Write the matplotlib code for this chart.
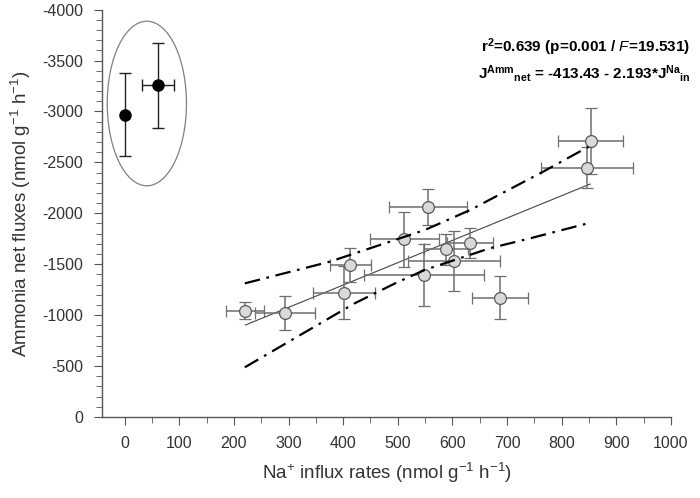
import numpy as np
import matplotlib
matplotlib.use("Agg")
import matplotlib.pyplot as plt
from matplotlib.patches import Ellipse
from matplotlib.ticker import MultipleLocator

plt.rcParams['font.family'] = ['Liberation Sans', 'DejaVu Sans']
plt.rcParams['axes.unicode_minus'] = False
plt.rcParams['mathtext.fontset'] = 'custom'
plt.rcParams['mathtext.rm'] = 'Liberation Sans'
plt.rcParams['mathtext.it'] = 'Liberation Sans:italic'
plt.rcParams['mathtext.bf'] = 'Liberation Sans:bold'

# outliers (black, circled)
na_black = [0, 61]
amm_black = [-2970, -3256]
na_black_err = [0, 30]
amm_black_err = [410, 417]

# main data (grey)
na = [220, 293, 402, 413, 512, 548, 555, 588, 603, 632, 687, 847, 853]
amm = [-1043, -1018, -1220, -1492, -1744, -1394, -2064, -1646, -1534, -1705, -1171, -2447, -2712]
na_err = [35, 55, 57, 38, 63, 110, 72, 40, 84, 42, 51, 84, 59]
amm_err = [85, 167, 262, 163, 271, 301, 176, 150, 295, 147, 213, 203, 324]

# regression line and confidence bands
reg_x = [221, 852]
reg_y = [-903, -2287]
up_x = [220, 375, 549, 632, 763, 849]
up_y = [-1312, -1524, -1835, -2031, -2400, -2653]
lo_x = [220, 421, 495, 549, 668, 742, 852]
lo_y = [-488, -1116, -1312, -1443, -1656, -1754, -1907]

fig = plt.figure(figsize=(7.0, 4.98), dpi=100)
ax = fig.add_axes([0.1461, 0.1627, 0.8124, 0.818])

ax.plot(reg_x, reg_y, color='#444444', lw=0.8, zorder=2)
ax.plot(up_x, up_y, color='black', lw=1.6, dashes=(7, 3, 1.2, 3), zorder=4)
ax.plot(lo_x, lo_y, color='black', lw=1.6, dashes=(7, 3, 1.2, 3), zorder=4)

ax.errorbar(na, amm, xerr=na_err, yerr=amm_err, fmt='o', ms=8.5,
            mfc='#d9d9d9', mec='#5a5a5a', mew=0.9, ecolor='#6e6e6e',
            elinewidth=1.1, capsize=4.5, capthick=1.1, zorder=3)
ax.errorbar(na_black, amm_black, xerr=na_black_err, yerr=amm_black_err, fmt='o',
            ms=8, mfc='black', mec='black', ecolor='#222222',
            elinewidth=1.0, capsize=4.5, capthick=1.0, zorder=3)

ax.add_patch(Ellipse((40.6, -3078), 145, 1616, fill=False, ec='#808080', lw=0.9))

ax.set_xlim(-41, 1000)
ax.set_ylim(0, -4000)
ax.xaxis.set_major_locator(MultipleLocator(100))
ax.xaxis.set_minor_locator(MultipleLocator(50))
ax.yaxis.set_major_locator(MultipleLocator(500))
ax.yaxis.set_minor_locator(MultipleLocator(100))

for s in ['top', 'right']:
    ax.spines[s].set_visible(False)
for s in ['left', 'bottom']:
    ax.spines[s].set_color('#555555')
    ax.spines[s].set_linewidth(1.0)
ax.tick_params(which='major', length=6, color='#555555', labelsize=11.5,
               labelcolor='#333333', pad=8)
ax.tick_params(which='minor', length=4, color='#555555')

ax.set_xlabel('Na$^{+}$ influx rates (nmol g$^{-1}$ h$^{-1}$)', fontsize=13.5,
              color='#333333', labelpad=7)
ax.set_ylabel('Ammonia net fluxes (nmol g$^{-1}$ h$^{-1}$)', fontsize=13.5,
              color='#333333', labelpad=6)

fig.text(0.986, 0.906, r'r$^{\mathbf{2}}$=0.639 (p=0.001 / $\mathit{F}$=19.531)',
         ha='right', va='center', fontsize=11, fontweight='bold')
fig.text(0.986, 0.853,
         r'J$^{\mathbf{Amm}}$$_{\mathbf{net}}$ = -413.43 - 2.193*J$^{\mathbf{Na}}$$_{\mathbf{in}}$',
         ha='right', va='center', fontsize=11, fontweight='bold')

fig.savefig('out.png', dpi=100)
